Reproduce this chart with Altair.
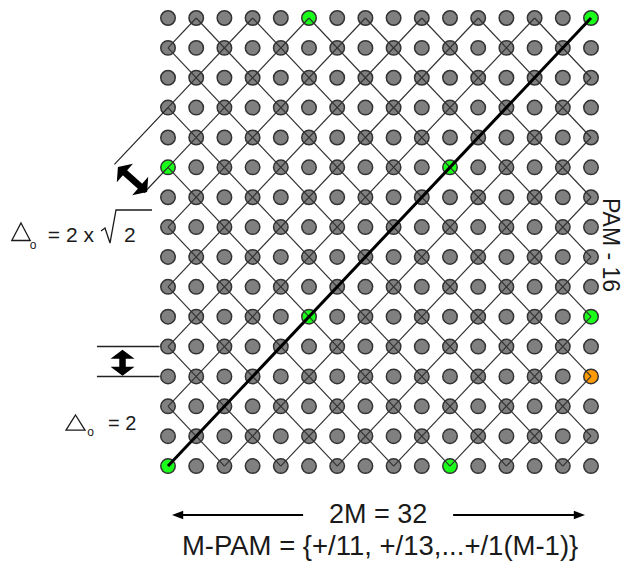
import altair as alt
import pandas as pd

# ---------------- data ----------------
cols = [0, 1, 2, 3, 4, 5, 6, 7, 8, 9, 10, 11, 12, 13, 14, 15]
rows = [0, 1, 2, 3, 4, 5, 6, 7, 8, 9, 10, 11, 12, 13, 14, 15]
green_cols = [5, 15, 0, 10, 5, 15, 0, 10]
green_rows = [0, 0, 5, 5, 10, 10, 15, 15]
orange_cols = [15]
orange_rows = [12]
# lattice lines: col + row = k  and  col - row = k
sum_lines = [1, 3, 5, 7, 9, 11, 13, 15, 17, 19, 21, 23, 25, 27, 29]
diff_lines = [-13, -11, -9, -7, -5, -3, -1, 1, 3, 5, 7, 9, 11, 13]
diag_from = [0, 15]
diag_to = [15, 0]

label_width = "2M = 32"
label_set = "M-PAM = {+/11, +/13,...+/1(M-1)}"
label_side = "PAM - 16"

X_DOMAIN = [-5.674, 16.241]
Y_DOMAIN = [-0.335, 18.179]

xs = alt.Scale(domain=X_DOMAIN, nice=False, zero=False)
ys = alt.Scale(domain=Y_DOMAIN, nice=False, zero=False, reverse=True)
FONT = "Liberation Sans"
TXT = "#1a1a1a"

def X(f="c"):
    return alt.X(f + ":Q", scale=xs, axis=None)

def Y(f="r"):
    return alt.Y(f + ":Q", scale=ys, axis=None)

# points
pts = []
for r in rows:
    for c in cols:
        fill = "#808080"
        for gc, gr in zip(green_cols, green_rows):
            if gc == c and gr == r:
                fill = "#1aff1a"
        for oc, orr in zip(orange_cols, orange_rows):
            if oc == c and orr == r:
                fill = "#ff9a00"
        pts.append({"c": c, "r": r, "fill": fill})
pts = pd.DataFrame(pts)

circles = alt.Chart(pts).mark_circle(size=210, opacity=1, stroke="#333333", strokeWidth=1.5).encode(
    x=X(), y=Y(), fill=alt.Fill("fill:N", scale=None)
)

segs = []
n = len(cols) - 1
for k in sum_lines:
    c0, c1 = max(0, k - n), min(n, k)
    segs.append({"c": c0, "r": k - c0, "c2": c1, "r2": k - c1})
for k in diff_lines:
    c0, c1 = max(0, k), min(n, n + k)
    segs.append({"c": c0, "r": c0 - k, "c2": c1, "r2": c1 - k})
segs = pd.DataFrame(segs)

def seg_chart(df, **kw):
    return alt.Chart(df).mark_rule(**kw).encode(
        x=X(), y=Y(), x2=alt.X2("c2:Q"), y2=alt.Y2("r2:Q")
    )

lattice = seg_chart(segs, color="#333333", strokeWidth=1.2)
diag = seg_chart(pd.DataFrame([{"c": diag_from[0], "r": diag_from[1], "c2": diag_to[0], "r2": diag_to[1]}]),
                 color="black", strokeWidth=3)

# annotation guide lines (grid units)
guides = seg_chart(pd.DataFrame([
    {"c": -1.9, "r": 4.9, "c2": 0, "r2": 3},
    {"c": -0.85, "r": 5.85, "c2": 0, "r2": 5},
]), color="#222222", strokeWidth=1.2)
hguides = seg_chart(pd.DataFrame([
    {"c": -2.52, "r": 11, "c2": -0.3, "r2": 11},
    {"c": -2.52, "r": 12, "c2": -0.3, "r2": 12},
]), color="#222222", strokeWidth=1.5)

thick_shafts = seg_chart(pd.DataFrame([
    {"c": -1.596, "r": 5.122, "c2": -0.922, "r2": 5.691},
    {"c": -1.613, "r": 11.316, "c2": -1.613, "r2": 11.751},
]), color="black", strokeWidth=6.5)
thin_shafts = seg_chart(pd.DataFrame([
    {"c": 0.39, "r": 16.64, "c2": 4.79, "r2": 16.64},
    {"c": 10.11, "r": 16.64, "c2": 14.54, "r2": 16.64},
]), color="black", strokeWidth=2)

HEAD_UP = "M0,-0.4L1,0.35L-1,0.35Z"
HEAD_DOWN = "M0,0.4L1,-0.35L-1,-0.35Z"
HEAD_L = "M-1,0L0.6,-0.6L0.6,0.6Z"
HEAD_R = "M1,0L-0.6,-0.6L-0.6,0.6Z"
TRI1 = "M0,-1L1,0.9L-1,0.9Z"
TRI2 = "M0,-1L1.2,0.9L-1.2,0.9Z"

def head(c, r, shape, size, angle=0, filled=True):
    kw = dict(shape=shape, size=size, angle=angle, opacity=1)
    if filled:
        kw.update(filled=True, color="black", strokeWidth=0)
    else:
        kw.update(filled=False, color=TXT, strokeWidth=1.3)
    return alt.Chart(pd.DataFrame([{"c": c, "r": r}])).mark_point(**kw).encode(x=X(), y=Y())

heads = [
    head(-1.645, 5.092, HEAD_UP, 600, 311),
    head(-0.872, 5.721, HEAD_DOWN, 600, 311),
    head(-1.613, 11.266, HEAD_UP, 576),
    head(-1.613, 11.818, HEAD_DOWN, 576),
    head(0.39, 16.64, HEAD_L, 196),
    head(14.54, 16.64, HEAD_R, 196),
    head(-5.213, 7.171, TRI1, 339, filled=False),
    head(-3.28, 13.556, TRI2, 250, filled=False),
]

def text(c, r, t, size, align="left", baseline="alphabetic", angle=0):
    return alt.Chart(pd.DataFrame([{"c": c, "r": r, "t": t}])).mark_text(
        font=FONT, fontSize=size, align=align, baseline=baseline, angle=angle, color=TXT
    ).encode(x=X(), y=Y(), text="t:N")

texts = [
    text(7.45, 16.64, label_width, 27, "center", "middle"),
    text(7.52, 17.978, label_set, 27.5, "center", "alphabetic"),
    text(15.68, 7.60, label_side, 23, "center", "middle", 90),
    # delta = 2 x sqrt(2)
    text(-4.90, 7.73, "o", 12),
    text(-4.26, 7.50, "= 2 x", 21),
    text(-1.56, 7.50, "2", 21),
    # delta = 2
    text(-2.86, 13.99, "o", 12),
    text(-2.13, 13.79, "= 2", 20),
]

# radical sign of sqrt(2)
radical = alt.Chart(pd.DataFrame([
    {"c": -2.376, "r": 7.131, "o": 0},
    {"c": -2.234, "r": 7.031, "o": 1},
    {"c": -2.057, "r": 7.533, "o": 2},
    {"c": -1.844, "r": 6.428, "o": 3},
    {"c": -0.567, "r": 6.428, "o": 4},
])).mark_line(color=TXT, strokeWidth=1.3).encode(x=X(), y=Y(), order="o:Q")

chart = alt.layer(
    circles, lattice, diag, guides, hguides, thick_shafts, thin_shafts, *heads, radical, *texts
).properties(
    width=618, height=553, padding=0, autosize=alt.AutoSizeParams(type="none")
).configure(background="white").configure_view(stroke=None)

chart.save("out.html", embed_options={"renderer": "svg", "actions": False})
